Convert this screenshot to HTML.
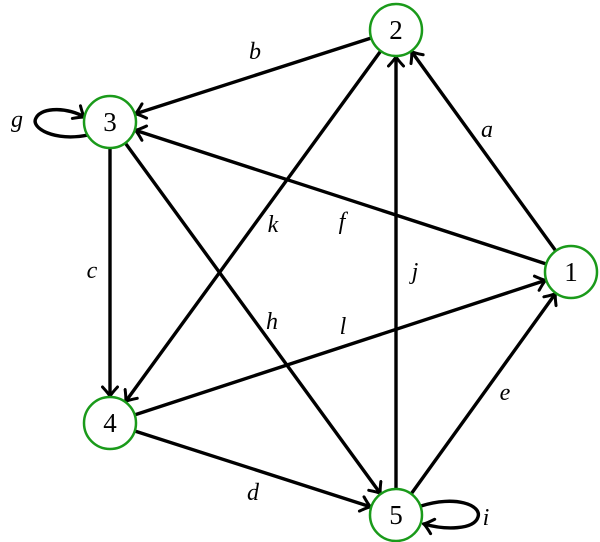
<!DOCTYPE html>
<html><head><meta charset="utf-8"><style>
html,body{margin:0;padding:0;background:#fff;}
svg{display:block;}
text{font-family:"Liberation Serif",serif;}
</style></head><body>
<svg id="s" width="600" height="542" viewBox="0 0 600 542" xmlns="http://www.w3.org/2000/svg">
<defs>
<marker id="ar" viewBox="-11 -9 13 18" refX="0" refY="0" markerWidth="13" markerHeight="18" markerUnits="userSpaceOnUse" orient="auto">
<path d="M -9 -7.5 Q -2 -1 0.5 0 Q -2 1 -9 7.5" fill="none" stroke="#000" stroke-width="3" stroke-linecap="round"/>
</marker>
</defs>
<g id="edges" stroke="#000" stroke-width="3.4" fill="none"></g>
<path d="M 88 135 C 55 142, 30 128, 36 118 C 42 106, 70 108, 84 117" stroke="#000" stroke-width="3.4" fill="none" marker-end="url(#ar)"/>
<path d="M 421 506 C 455 495, 482 505, 478 517 C 474 530, 445 530, 424 524" stroke="#000" stroke-width="3.4" fill="none" marker-end="url(#ar)"/>
<g id="nodes"></g>
<g font-size="24" font-style="italic" fill="#000" text-anchor="middle">
<text x="487" y="137">a</text>
<text x="255" y="59">b</text>
<text x="92" y="278">c</text>
<text x="253" y="500">d</text>
<text x="505" y="400">e</text>
<text x="342" y="229">f</text>
<text x="17" y="127">g</text>
<text x="272" y="329">h</text>
<text x="486" y="525">i</text>
<text x="415" y="279">j</text>
<text x="273" y="232">k</text>
<text x="343" y="334">l</text>
</g>
</svg>
<script>
var N={1:[571,272],2:[396,30],3:[110,122],4:[110,423],5:[396,515]},R=26;
var E=[[1,2],[2,3],[3,4],[4,5],[5,1],[1,3],[3,5],[5,2],[2,4],[4,1]];
var ns="http://www.w3.org/2000/svg",g=document.getElementById("edges");
E.forEach(function(e){var a=N[e[0]],b=N[e[1]],dx=b[0]-a[0],dy=b[1]-a[1],L=Math.hypot(dx,dy),ux=dx/L,uy=dy/L;
var p=document.createElementNS(ns,"line");
p.setAttribute("x1",a[0]+ux*R);p.setAttribute("y1",a[1]+uy*R);
p.setAttribute("x2",b[0]-ux*(R+1));p.setAttribute("y2",b[1]-uy*(R+1));
p.setAttribute("marker-end","url(#ar)");g.appendChild(p);});
var ng=document.getElementById("nodes");
for(var k in N){var c=document.createElementNS(ns,"circle");c.setAttribute("cx",N[k][0]);c.setAttribute("cy",N[k][1]);c.setAttribute("r",R);
c.setAttribute("fill","#fff");c.setAttribute("stroke","#1a9a1a");c.setAttribute("stroke-width","2.5");ng.appendChild(c);
var t=document.createElementNS(ns,"text");t.setAttribute("x",N[k][0]);t.setAttribute("y",N[k][1]+9);t.setAttribute("font-size","27");
t.setAttribute("text-anchor","middle");t.textContent=k;ng.appendChild(t);}
</script>
</body></html>
